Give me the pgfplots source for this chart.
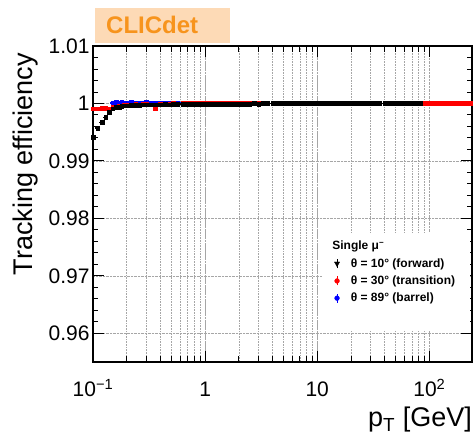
\documentclass[border=0pt]{standalone}
\usepackage{fontspec}
\setmainfont{Liberation Sans}
\usepackage{pgfplots}
\pgfplotsset{compat=1.18}
\usepackage{pgfplotstable}
\usetikzlibrary{calc}

\definecolor{clicorange}{RGB}{247,148,29}
\definecolor{clicpeach}{RGB}{253,218,182}
\definecolor{rootred}{RGB}{255,0,0}
\definecolor{rootblue}{RGB}{0,0,255}

% theta = 10 deg (forward)
\pgfplotstableread{
x y
0.10 0.9941
0.11 0.9957
0.12 0.9967
0.13 0.9976
0.14 0.9985
0.15 0.9991
0.16 0.9993
0.17 0.9994
0.18 0.9995
0.19 0.9996
0.20 0.9996
0.22 0.9997
0.24 0.9997
0.26 0.9997
0.28 0.9998
0.30 0.9998
0.33 0.9998
0.36 0.9998
0.40 0.9998
0.44 0.9999
0.48 0.9998
0.52 0.9999
0.57 0.9999
0.63 0.9999
0.69 0.9999
0.76 0.9999
0.83 0.9999
0.91 0.9999
1.0 0.9999
1.1 0.9999
1.2 0.9999
1.3 0.9999
1.45 0.9999
1.6 0.9999
1.75 0.9999
1.9 0.9999
2.1 0.9999
2.3 0.9999
2.5 0.9999
2.75 1.0
3.0 0.9999
3.3 1.0
3.6 1.0
4.0 1.0
4.4 1.0
4.8 1.0
5.2 1.0
5.7 1.0
6.3 1.0
6.9 1.0
7.6 1.0
8.3 1.0
9.1 1.0
10 1.0
11 1.0
12 1.0
13 1.0
14.5 1.0
16 1.0
17.5 1.0
19 1.0
21 1.0
23 1.0
25 1.0
27.5 1.0
30 1.0
33 1.0
36 1.0
40 1.0
44 1.0
48 1.0
52 1.0
57 1.0
63 1.0
69 1.0
76 1.0
83 1.0
}\forward

% theta = 30 deg (transition)
\pgfplotstableread{
x y
0.10 0.9991
0.11 0.9991
0.12 0.9992
0.13 0.9992
0.14 0.9991
0.15 0.9993
0.16 0.9994
0.17 0.9995
0.18 0.9996
0.19 0.9997
0.20 0.9998
0.22 0.9998
0.24 0.9999
0.26 0.9998
0.28 0.9999
0.30 0.9999
0.33 0.9998
0.36 0.9991
0.40 0.9999
0.44 0.9999
0.48 0.9999
0.52 1.0
0.57 0.9999
0.63 1.0
0.69 1.0
0.76 1.0
0.83 1.0
0.91 1.0
1.0 1.0
1.1 1.0
1.2 1.0
1.3 1.0
1.45 1.0
1.6 1.0
1.75 1.0
1.9 1.0
2.1 1.0
2.3 1.0
2.5 1.0
2.75 1.0
3.0 1.0
3.3 1.0
3.6 1.0
4.0 1.0
4.4 1.0
4.8 1.0
5.2 1.0
5.7 1.0
6.3 1.0
6.9 1.0
7.6 1.0
8.3 1.0
9.1 1.0
10 1.0
11 1.0
12 1.0
13 1.0
14.5 1.0
16 1.0
17.5 1.0
19 1.0
21 1.0
23 1.0
25 1.0
27.5 1.0
30 1.0
33 1.0
36 1.0
40 1.0
44 1.0
48 1.0
52 1.0
57 1.0
63 1.0
69 1.0
76 1.0
83 1.0
91 1.0
100 1.0
110 1.0
120 1.0
130 1.0
145 1.0
160 1.0
175 1.0
190 1.0
210 1.0
230 1.0
}\transition

% theta = 89 deg (barrel)
\pgfplotstableread{
x y
0.15 1.0001
0.16 1.0002
0.17 1.0001
0.18 1.0002
0.19 1.0001
0.20 1.0001
0.22 1.0002
0.24 1.0001
0.26 1.0001
0.28 1.0001
0.30 1.0002
0.33 1.0001
0.36 1.0001
0.40 1.0001
0.44 1.0
0.48 1.0001
0.52 1.0
0.57 1.0
0.63 1.0001
0.69 1.0
0.76 1.0
0.83 1.0
0.91 1.0
1.0 1.0
1.2 1.0
1.45 1.0
1.75 1.0
2.1 1.0
2.5 1.0
3.0 1.0
3.6 1.0
4.4 1.0
5.2 1.0
6.3 1.0
7.6 1.0
9.1 1.0
11 1.0
13 1.0
16 1.0
19 1.0
23 1.0
27.5 1.0
33 1.0
40 1.0
48 1.0
57 1.0
69 1.0
83 1.0
}\barrel

\pgfplotsset{
  rootpoints/.style={
    only marks, mark=square*, mark size=1.9pt,
    error bars/.cd, x dir=both, x fixed relative=0.05,
    y dir=both, y fixed=0.0002, error mark=none,
    error bar style={line width=1.4pt},
    /pgfplots/.cd,
  },
}

\begin{document}
\begin{tikzpicture}
\useasboundingbox (-93pt,-75pt) rectangle (382pt,362pt);
\begin{axis}[
  at={(0,0)}, anchor=south west,
  scale only axis, width=379pt, height=316pt,
  xmode=log, xmin=0.1, xmax=240,
  ymin=0.955, ymax=1.01,
  xtick={0.1,1,10,100},
  xticklabels={10\textsuperscript{−1},1,10,10\textsuperscript{2}},
  ytick={0.96,0.97,0.98,0.99,1,1.01},
  yticklabels={0.96,0.97,0.98,0.99,1,1.01},
  minor y tick num=4,
  tick align=inside, xtick pos=both, ytick pos=both,
  xticklabel pos=lower, yticklabel pos=left,
  major tick length=11pt, minor tick length=5.5pt,
  every tick/.style={black, line width=0.9pt},
  axis line style={line width=1.3pt},
  /pgf/number format/assume math mode=true,
  tick label style={font=\fontsize{21}{25}\selectfont},
  xticklabel style={text height=18pt, text depth=0pt, yshift=-13pt},
  xmajorgrids, xminorgrids, ymajorgrids,
  grid style={densely dotted, gray!70, line width=0.6pt},
  minor grid style={densely dotted, gray!70, line width=0.6pt},
  xlabel={p\textsubscript{T} [GeV]},
  ylabel={Tracking efficiency},
  label style={font=\fontsize{27}{32}\selectfont},
  xlabel style={at={(rel axis cs:1,0)}, anchor=north east, yshift=-45pt, inner sep=0pt},
  ylabel style={at={(rel axis cs:-0.145,0.978)}, anchor=south east, inner sep=0pt},
  reverse legend,
  legend cell align=left,
  legend style={at={(rel axis cs:0.636,0.334)}, anchor=north west,
    draw=none, fill=none, inner sep=0pt, row sep=3pt,
    font=\bfseries\fontsize{12}{14}\selectfont,
    /tikz/every odd column/.append style={column sep=9pt}},
]
\addplot[rootblue,
  legend image code/.code={\draw[rootblue, line width=0.8pt] (0pt,-4.5pt) -- (0pt,4.5pt); \fill[rootblue] (0pt,0pt) circle (2.4pt);},
  rootpoints]
  table[x=x, y=y] {\barrel};
\addlegendentry{θ = 89° (barrel)}
\addplot[rootred,
  legend image code/.code={\draw[rootred, line width=0.8pt] (0pt,-4.5pt) -- (0pt,4.5pt); \fill[rootred] (0pt,0pt) circle (2.4pt);},
  rootpoints]
  table[x=x, y=y] {\transition};
\addlegendentry{θ = 30° (transition)}
\addplot[black,
  legend image code/.code={\draw[black, line width=0.8pt] (0pt,-4.5pt) -- (0pt,4.5pt); \fill[black] (-2.6pt,1.8pt) -- (2.6pt,1.8pt) -- (0pt,-2.8pt) -- cycle;},
  rootpoints]
  table[x=x, y=y] {\forward};
\addlegendentry{θ = 10° (forward)}
\fill[white] (rel axis cs:0.604,0.101) rectangle (rel axis cs:0.995,0.408);
\node[anchor=west, inner sep=0pt, font=\bfseries\fontsize{12}{14}\selectfont]
  at (rel axis cs:0.631,0.366) {Single μ\textsuperscript{−}};
\end{axis}
\node[anchor=south west, fill=clicpeach, minimum height=35pt, text width=113pt,
  inner xsep=11pt, inner ysep=0pt, align=left, text=clicorange,
  font=\bfseries\fontsize{24}{28}\selectfont]
  at ($(current axis.north west)+(2pt,3pt)$) {CLICdet};
\end{tikzpicture}
\end{document}
